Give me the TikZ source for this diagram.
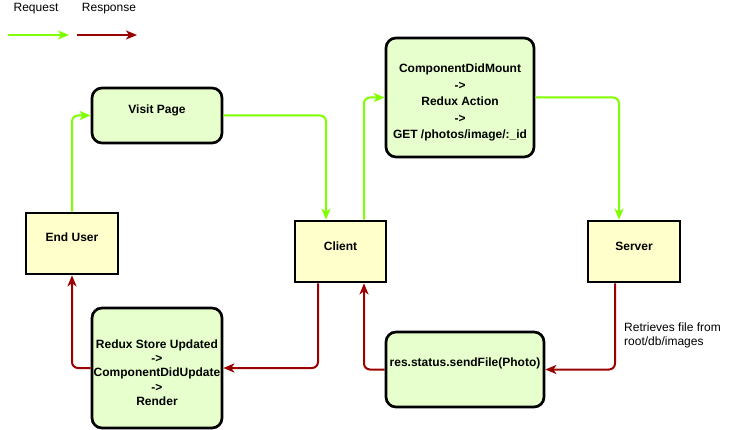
\documentclass[tikz,border=0pt]{standalone}
\usepackage{fontspec}
\setmainfont{Liberation Sans}
\usetikzlibrary{arrows.meta}
\definecolor{reqc}{HTML}{80FF00}
\definecolor{resc}{HTML}{990000}
\definecolor{greenfill}{HTML}{E6FFCC}
\definecolor{yellowfill}{HTML}{FFFFCC}
\tikzset{
  rbox/.style={draw=black, line width=2.7pt, fill=greenfill, rounded corners=10pt, inner sep=0pt},
  sbox/.style={draw=black, line width=2.7pt, fill=yellowfill, inner sep=0pt},
  txt/.style={font=\fontsize{12}{14}\selectfont\bfseries, align=center, inner sep=0pt},
  plain/.style={font=\fontsize{12}{14}\selectfont, inner sep=0pt},
  req/.style={draw=reqc, line width=2pt, rounded corners=6pt, -{Stealth[length=11pt,width=9pt,inset=3pt]}},
  res/.style={draw=resc, line width=2pt, rounded corners=6pt, -{Stealth[length=11pt,width=9pt,inset=3pt]}},
}
\begin{document}
\begin{tikzpicture}[x=1pt,y=-1pt]
\useasboundingbox (0,0) rectangle (743,430);
% legend
\node[plain] (lreq) at (36,9) {Request};
\node[plain] (lres) at (109,9) {Response};
\coordinate (lr1) at (8,35);
\coordinate (lr2) at (69,35);
\coordinate (ls1) at (77,35);
\coordinate (ls2) at (137,35);
\draw[req] (lr1) -- (lr2);
\draw[res] (ls1) -- (ls2);
% boxes
\node[rbox, minimum width=130pt, minimum height=55pt] (vp) at (157,115.5) {};
\node[txt] (vpt) at (157,110) {Visit Page};
\node[rbox, minimum width=148pt, minimum height=119pt] (cdm) at (460,97.5) {};
\node[txt, font=\fontsize{12}{16.5}\selectfont\bfseries] (cdmt) at (460,102.5) {ComponentDidMount\\->\\Redux Action\\->\\GET /photos/image/:\_id};
\node[sbox, minimum width=92pt, minimum height=61pt] (eu) at (72,243.5) {};
\node[txt] (eut) at (72,237) {End User};
\node[sbox, minimum width=91pt, minimum height=61pt] (cl) at (340.5,251.5) {};
\node[txt] (clt) at (340.5,246) {Client};
\node[sbox, minimum width=92pt, minimum height=61pt] (sv) at (634,251.5) {};
\node[txt] (svt) at (634,246) {Server};
\node[rbox, minimum width=130pt, minimum height=120pt] (rx) at (157,368) {};
\node[txt, font=\fontsize{12}{14.3}\selectfont\bfseries] (rxt) at (157,372.5) {Redux Store Updated\\->\\ComponentDidUpdate\\->\\Render};
\node[rbox, minimum width=158pt, minimum height=75pt] (rs) at (465,369.5) {};
\node[txt] (rst) at (465,363) {res.status.sendFile(Photo)};
\node[plain, align=left, anchor=north west] (lbl) at (624,322.5) {Retrieves file from\\root/db/images};
% request connectors
\draw[req] (eu.north) |- (vp.west);
\draw[req] (vp.east) -| ([xshift=-14.5pt]cl.north);
\draw[req] ([xshift=23.5pt]cl.north) |- (cdm.west);
\draw[req] (cdm.east) -| ([xshift=-15pt]sv.north);
% response connectors
\draw[res] ([xshift=-19pt]sv.south) |- (rs.east);
\draw[res] (rs.west) -| ([xshift=23.5pt]cl.south);
\draw[res] ([xshift=-22.5pt]cl.south) |- (rx.east);
\draw[res] (rx.west) -| (eu.south);
\end{tikzpicture}
\end{document}
